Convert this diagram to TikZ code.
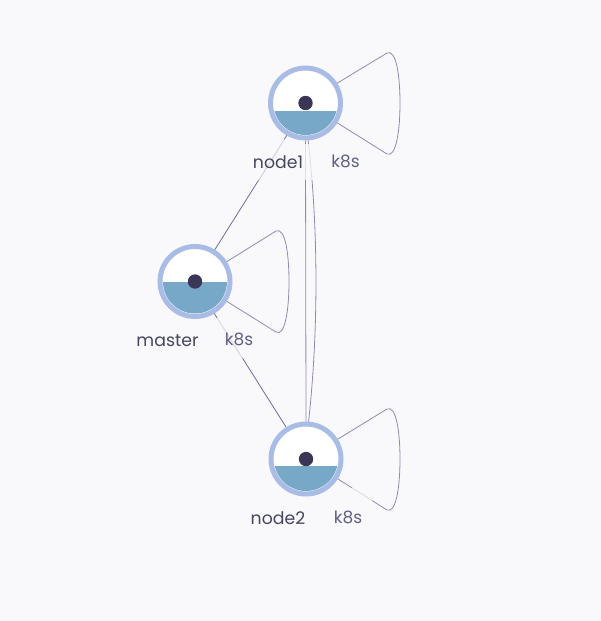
\documentclass[tikz,border=0pt]{standalone}
\usepackage{fontspec}
\setmainfont{Poppins}
\definecolor{bgc}{HTML}{F9F9FC}
\definecolor{ringc}{HTML}{A9BCE6}
\definecolor{waterc}{HTML}{78A8C8}
\definecolor{dotc}{HTML}{3A3655}
\definecolor{linec}{HTML}{8E8AB4}
\definecolor{darkline}{HTML}{6F6A9C}
\definecolor{namec}{HTML}{46465F}
\definecolor{kc}{HTML}{5F5F85}
\tikzset{
  x=1pt,y=-1pt,
  hostnode/.style={circle,draw=ringc,line width=5pt,fill=white,minimum size=70pt,inner sep=0pt,outer sep=2.5pt},
  coredot/.style={circle,fill=dotc,minimum size=14.4pt,inner sep=0pt},
  namelabel/.style={font=\fontsize{17.3}{20}\selectfont,text=namec,inner sep=0pt},
  kindlabel/.style={font=\fontsize{17}{20}\selectfont,text=kc,inner sep=0pt},
  edgeline/.style={draw=darkline,line width=0.8pt},
  loopline/.style={draw=linec,line width=0.8pt},
  halo/.style={draw=bgc,opacity=0.75,line width=2pt},
  halobox/.style={fill=bgc,opacity=0.75},
}
\newcommand{\hostpic}[4]{%
  \node[hostnode] (#1) at (#2,#3) {};
  \begin{scope}
    \clip (#2,#3) circle[radius=32];
    \fill[waterc] (#2-33,#3+#4) rectangle (#2+33,#3+33);
  \end{scope}
  \node[coredot] (#1dot) at (#2,#3) {};
}
\begin{document}
\begin{tikzpicture}
\useasboundingbox (0,0) rectangle (601,621);
\fill[bgc] (0,0) rectangle (601,621);
\draw[edgeline] (287,135) coordinate (e1a) -- (214,251) coordinate (e1b);
\draw[edgeline] (214,313) coordinate (e2a) -- (286,427) coordinate (e2b);
\hostpic{node1}{305.5}{103}{7.5}
\hostpic{master}{195}{281.5}{0.8}
\hostpic{node2}{306}{459}{7}
\draw[loopline] (node1.-90) -- (node2.90);
\draw[loopline] (node1.-86) .. controls (318.5,230) and (318.5,330) .. (node2.86);
\draw[loopline] (node1.32) -- (387,53) .. controls (396,49) and (400,75) .. (400,103) .. controls (400,131) and (396,158) .. (387,154) -- (node1.-32);
\draw[loopline] (master.32) -- (276,231) .. controls (285,227) and (289,253) .. (289,281.5) .. controls (289,310) and (285,337) .. (276,332) -- (master.-32);
\draw[loopline] (node2.32) -- (387,409) .. controls (396,405) and (400,431) .. (400,459) .. controls (400,487) and (396,514) .. (387,510) -- (node2.-32);
\draw[halo] (284,139) -- (258,180);
\draw[halo] (217,318) -- (243,358);
\draw[halo] (255,315) -- (272,328);
\draw[halo] (352,488) -- (372,501);
\fill[halobox] (303,144) rectangle (315,180);
\node[namelabel,anchor=base] (lab1) at (278,168) {node1};
\node[kindlabel,anchor=base] (kind1) at (345.5,167) {k8s};
\node[namelabel,anchor=base] (lab2) at (167.5,346) {master};
\node[kindlabel,anchor=base] (kind2) at (239,345) {k8s};
\node[namelabel,anchor=base] (lab3) at (278,524) {node2};
\node[kindlabel,anchor=base] (kind3) at (348,523) {k8s};
\end{tikzpicture}
\end{document}
